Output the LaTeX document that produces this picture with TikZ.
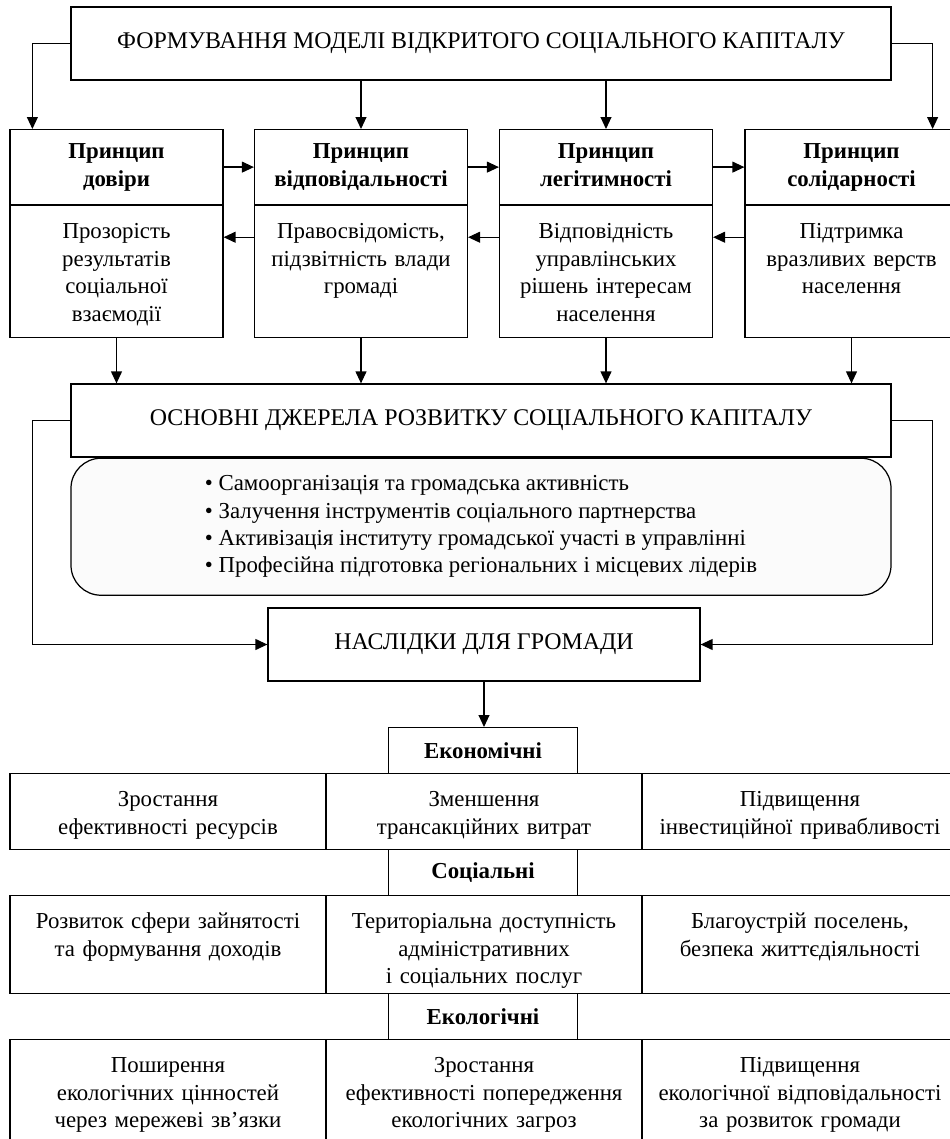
\documentclass[tikz,border=0pt]{standalone}
\usepackage{fontspec}
\setmainfont{Liberation Serif}
\usetikzlibrary{arrows.meta,positioning}

\tikzset{
  box/.style={draw, line width=0.7pt, align=center, inner sep=0.16cm},
  title/.style={box, font=\fontsize{13.6pt}{16pt}\selectfont, minimum height=1.46cm},
  head/.style={box, execute at begin node=\bfseries, text width=3.94cm, anchor=north, text height=0.42cm, text depth=0.76cm},
  body/.style={box, text width=3.94cm, anchor=north, text height=0.5cm},
  cell/.style={box, text width=6cm, anchor=north, text height=0.5cm},
  kind/.style={box, execute at begin node=\bfseries, minimum width=3.78cm, minimum height=0.92cm, anchor=north},
  link/.style={->, line width=0.7pt},
}

\begin{document}
\begin{tikzpicture}[font=\fontsize{13pt}{15.6pt}\selectfont, >={Triangle[length=6.8pt,width=6.2pt]}]
	\useasboundingbox (0,0) rectangle (19,-22.78);

	\node[title, minimum width=16.4cm] (form) at (9.62,-0.87) {ФОРМУВАННЯ МОДЕЛІ ВІДКРИТОГО СОЦІАЛЬНОГО КАПІТАЛУ};

	% principles
	\node[head] (p1h) at (2.33,-2.58) {Принцип\\довіри};
	\node[head] (p2h) at (7.22,-2.58) {Принцип\\відповідальності};
	\node[head] (p3h) at (12.12,-2.58) {Принцип\\легітимності};
	\node[head] (p4h) at (17.03,-2.58) {Принцип\\солідарності};

	\node[body, text depth=1.82cm] (p1b) at (p1h.south) {Прозорість\\результатів\\соціальної\\взаємодії};
	\node[body, text depth=1.82cm] (p2b) at (p2h.south) {Правосвідомість,\\підзвітність влади\\громаді};
	\node[body, text depth=1.82cm] (p3b) at (p3h.south) {Відповідність\\управлінських\\рішень інтересам\\населення};
	\node[body, text depth=1.82cm] (p4b) at (p4h.south) {Підтримка\\вразливих верств\\населення};

	\draw[link] (form.west) -| ([xshift=0.46cm]p1h.north west);
	\draw[link] (form.east) -| ([xshift=-0.52cm]p4h.north east);
	\draw[link] (p2h.north |- form.south) -- (p2h.north);
	\draw[link] (p3h.north |- form.south) -- (p3h.north);

	\draw[link] (p1h) -- (p2h);
	\draw[link] (p2h) -- (p3h);
	\draw[link] (p3h) -- (p4h);

	\draw[link] ([yshift=-0.64cm]p2b.north west) -- ([yshift=-0.64cm]p1b.north east);
	\draw[link] ([yshift=-0.64cm]p3b.north west) -- ([yshift=-0.64cm]p2b.north east);
	\draw[link] ([yshift=-0.64cm]p4b.north west) -- ([yshift=-0.64cm]p3b.north east);

	% sources
	\node[title, minimum width=16.4cm] (src) at (9.62,-8.41) {ОСНОВНІ ДЖЕРЕЛА РОЗВИТКУ СОЦІАЛЬНОГО КАПІТАЛУ};

	\node[box, align=left, rounded corners=0.6cm, fill=gray!3, minimum width=16.4cm, minimum height=2.74cm, anchor=north] (ways) at (src.south) {• Самоорганізація та громадська активність\\• Залучення інструментів соціального партнерства\\• Активізація інституту громадської участі в управлінні\\• Професійна підготовка регіональних і місцевих лідерів};

	\draw[link] (p1b.south) -- (p1b.south |- src.north);
	\draw[link] (p2b.south) -- (p2b.south |- src.north);
	\draw[link] (p3b.south) -- (p3b.south |- src.north);
	\draw[link] (p4b.south) -- (p4b.south |- src.north);

	% consequences
	\node[title, minimum width=8.64cm] (cons) at (9.68,-12.89) {НАСЛІДКИ ДЛЯ ГРОМАДИ};

	\draw[link] (src.west) -- ++(-0.76,0) |- (cons.west);
	\draw[link] (src.east) -- ++(0.82,0) |- (cons.east);

	\node[kind] (econ) at (9.66,-14.54) {Економічні};
	\draw[link] (cons.south) -- (cons.south |- econ.north);

	\node[cell, text depth=0.70cm] (e1) at (3.36,-15.46) {Зростання\\ефективності ресурсів};
	\node[cell, text depth=0.70cm] (e2) at (9.68,-15.46) {Зменшення\\трансакційних витрат};
	\node[cell, text depth=0.70cm] (e3) at (16.0,-15.46) {Підвищення\\інвестиційної привабливості};

	\node[kind] (soc) at (9.66,-16.98) {Соціальні};

	\node[cell, text depth=1.14cm] (s1) at (3.36,-17.9) {Розвиток сфери зайнятості\\та формування доходів};
	\node[cell, text depth=1.14cm] (s2) at (9.68,-17.9) {Територіальна доступність\\адміністративних\\і соціальних послуг};
	\node[cell, text depth=1.14cm] (s3) at (16.0,-17.9) {Благоустрій поселень,\\безпека життєдіяльності};

	\node[kind] (eco) at (9.66,-19.86) {Екологічні};

	\node[cell, text depth=1.28cm] (g1) at (3.36,-20.78) {Поширення\\екологічних цінностей\\через мережеві зв’язки};
	\node[cell, text depth=1.28cm] (g2) at (9.68,-20.78) {Зростання\\ефективності попередження\\екологічних загроз};
	\node[cell, text depth=1.28cm] (g3) at (16.0,-20.78) {Підвищення\\екологічної відповідальності\\за розвиток громади};
\end{tikzpicture}
\end{document}
